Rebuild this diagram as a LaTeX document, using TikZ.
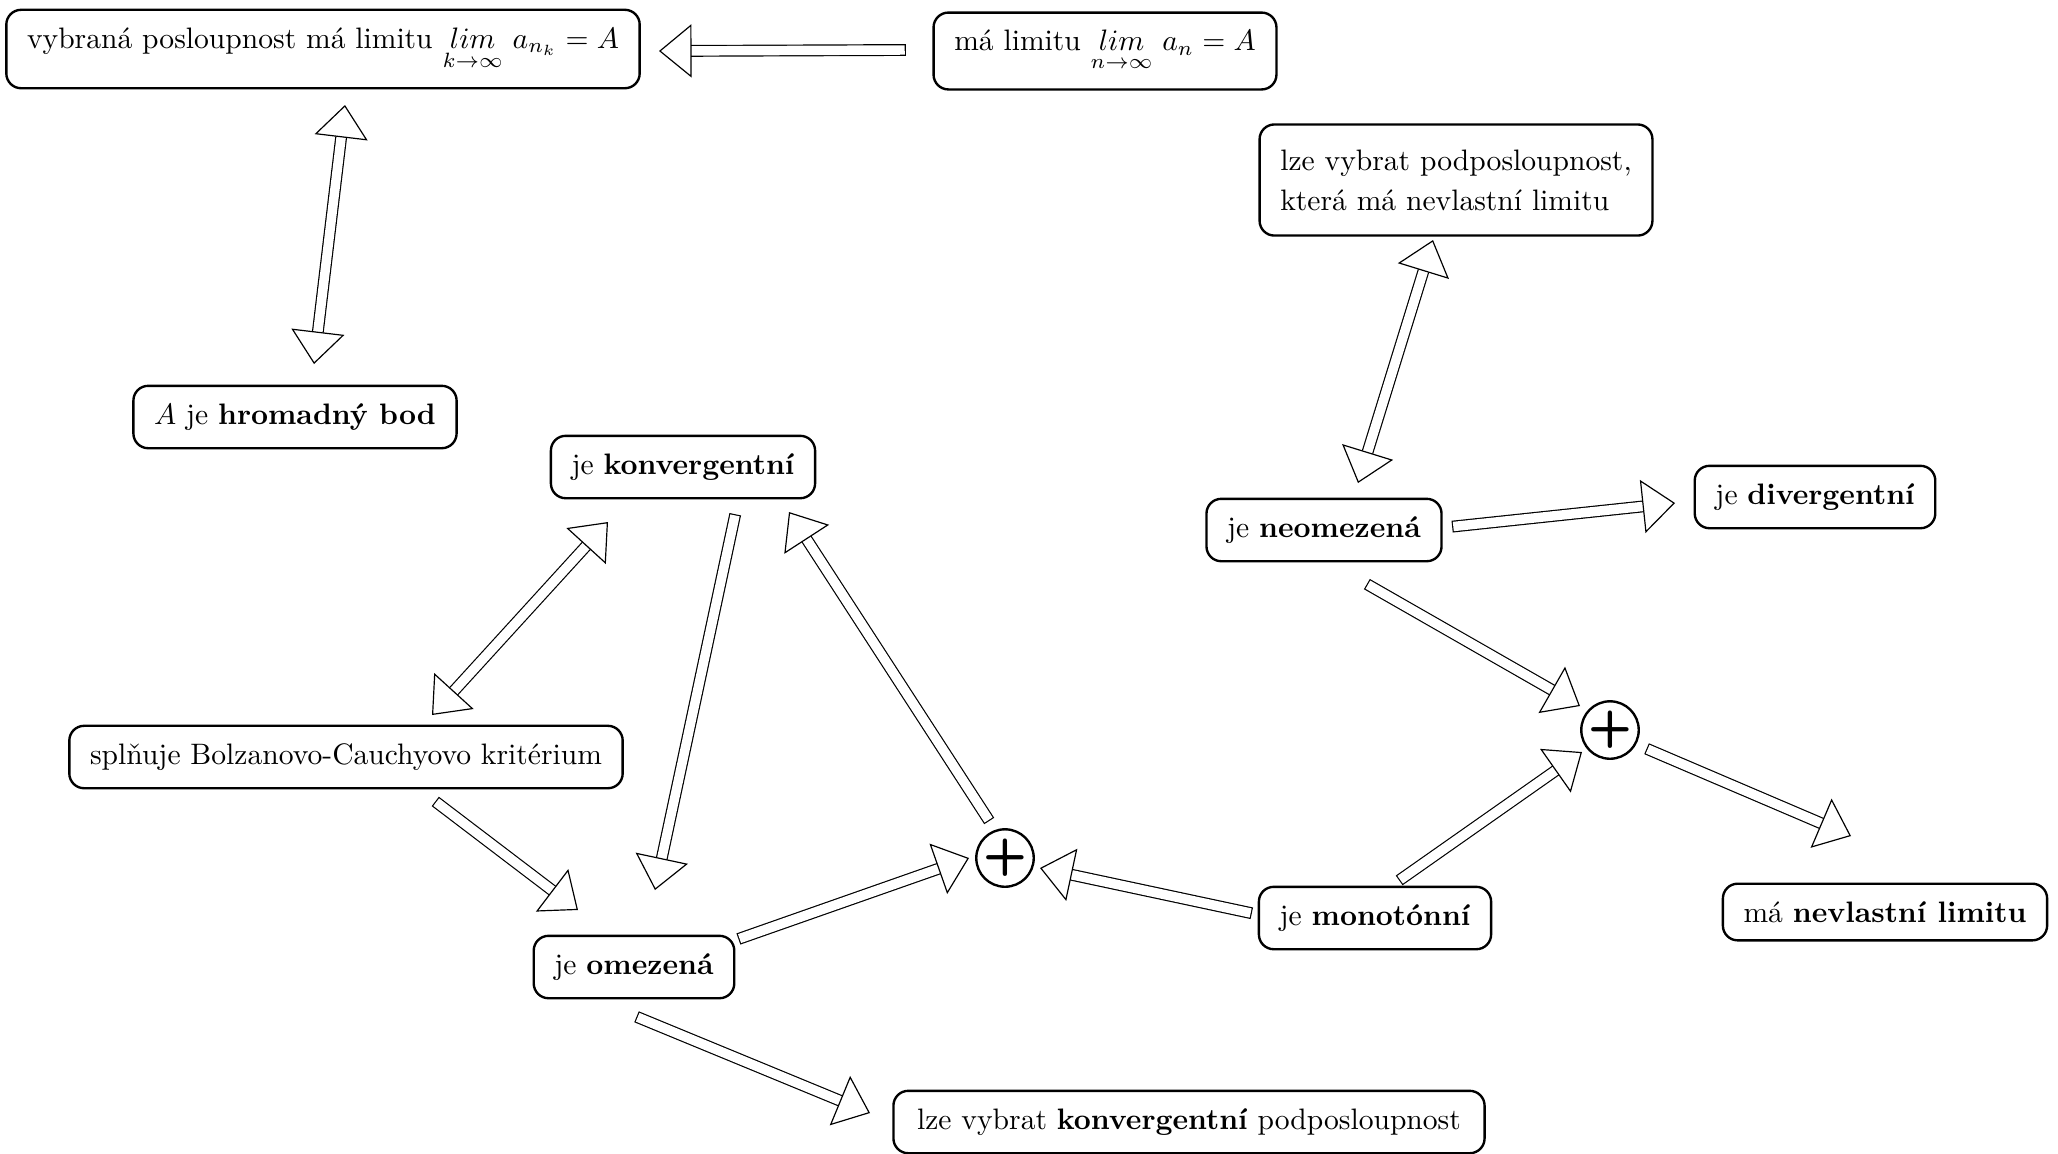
\documentclass[tikz,border=0pt]{standalone}
\usepackage{amsmath}
\usetikzlibrary{arrows.meta}

\begin{document}
\begin{tikzpicture}[x=0.338pt, y=-0.338pt,
  box/.style={draw, thick, rounded corners=5pt, inner xsep=7pt, inner ysep=6pt, align=left},
  sum/.style={draw, thick, circle, minimum size=19pt, inner sep=0pt, font=\LARGE\sffamily\bfseries},
  Fat/.tip={Triangle[length=11pt, width=18pt, fill=white, line width=0.4pt]},
  imp/.style={double, double distance=3.2pt, line cap=rect, -Fat},
  bimp/.style={double, double distance=3.2pt, Fat-Fat}]
\useasboundingbox (0,0) rectangle (2058,1153);

% nodes
\node[box] (vyb) at (323,49) {vybraná posloupnost má limitu $\underset{k\rightarrow\infty}{lim}\ a_{n_k} = A$};
\node[box] (lim) at (1105,51) {má limitu $\underset{n\rightarrow\infty}{lim}\ a_n = A$};
\node[box, inner ysep=8.5pt] (nvyb) at (1456,180) {lze vybrat podposloupnost,\\[1.5pt] která má nevlastní limitu};
\node[box] (hrom) at (295,417) {$A$ je \textbf{hromadný bod}};
\node[box] (konv) at (683,467) {je \textbf{konvergentní}};
\node[box] (neom) at (1324,530) {je \textbf{neomezená}};
\node[box] (div) at (1815,497) {je \textbf{divergentní}};
\node[box] (bc) at (346,757) {splňuje Bolzanovo-Cauchyovo kritérium};
\node[sum] (p1) at (1005,858) {+};
\node[sum] (p2) at (1610,730) {+};
\node[box] (omez) at (634,967) {je \textbf{omezená}};
\node[box] (mono) at (1375,918) {je \textbf{monotónní}};
\node[box] (nevl) at (1885,912) {má \textbf{nevlastní limitu}};
\node[box, inner xsep=8pt] (kpod) at (1189,1122) {lze vybrat \textbf{konvergentní} podposloupnost};

% implications
\draw[imp] ([shift={(-205,-1)}]lim.center) -- ([shift={(336,2)}]vyb.center);
\draw[bimp] ([shift={(22,56)}]vyb.center) -- ([shift={(19,-53)}]hrom.center);
\draw[bimp] ([shift={(-23,60)}]nvyb.center) -- ([shift={(34,-47)}]neom.center);
\draw[imp] ([shift={(134,-4)}]neom.center) -- ([shift={(-140,6)}]div.center);
\draw[imp] ([shift={(48,57)}]neom.center) -- ([shift={(-30,-24)}]p2.center);
\draw[imp] ([shift={(29,-41)}]mono.center) -- ([shift={(-28,22)}]p2.center);
\draw[imp] ([shift={(42,21)}]p2.center) -- ([shift={(-34,-76)}]nevl.center);
\draw[bimp] ([shift={(-75,55)}]konv.center) -- ([shift={(86,-42)}]bc.center);
\draw[imp] ([shift={(51,53)}]konv.center) -- ([shift={(21,-77)}]omez.center);
\draw[imp] ([shift={(-19,-42)}]p1.center) -- ([shift={(106,45)}]konv.center);
\draw[imp] ([shift={(-129,-6)}]mono.center) -- ([shift={(35,10)}]p1.center);
\draw[imp] ([shift={(110,-30)}]omez.center) -- ([shift={(-36,0)}]p1.center);
\draw[imp] ([shift={(94,48)}]bc.center) -- ([shift={(-56,-57)}]omez.center);
\draw[imp] ([shift={(8,52)}]omez.center) -- ([shift={(-319,-9)}]kpod.center);
\end{tikzpicture}
\end{document}
